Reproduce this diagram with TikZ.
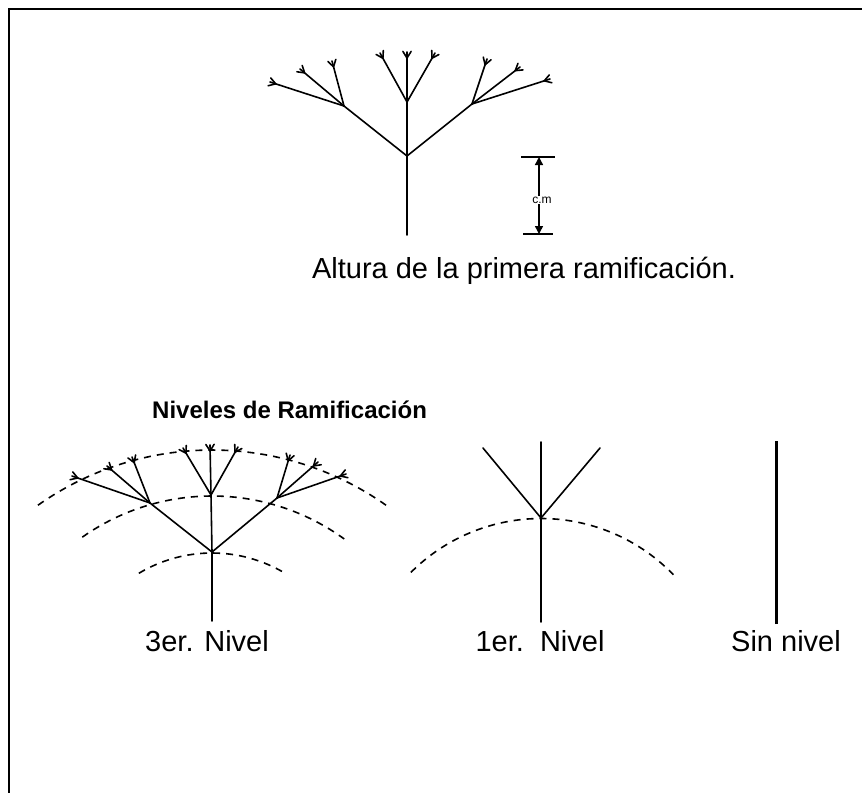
\documentclass[tikz,border=0pt]{standalone}
\usepackage{fontspec}
\setmainfont{Liberation Sans}
\usetikzlibrary{calc,arrows.meta}
\tikzset{
  br/.style={line width=1.6pt, line cap=round},
  arcd/.style={line width=1.6pt, dash pattern=on 7pt off 6pt},
  frame/.style={line width=2.5pt},
  lbl/.style={font=\fontsize{29}{31}\selectfont, inner sep=0pt},
  ttl/.style={font=\bfseries\fontsize{24}{26}\selectfont, inner sep=0pt},
  scl/.style={line width=1.4pt},
  sclarr/.style={line width=1.4pt, -{Triangle[length=8pt,width=8pt]}}
}
\newcommand\twig[2]{%
  \draw[br] (#1) -- (#2);
  \path ($(#2)!6pt!(#1)$) coordinate (fk);
  \draw[br] ($(fk)!1.3!32:(#2)$) -- (fk) -- ($(fk)!1.3!-32:(#2)$);
}
\begin{document}
\begin{tikzpicture}[x=1pt,y=1pt]
\useasboundingbox (0,0) rectangle (862,-793);
% frame
\coordinate (fTL) at (9,-9);
\coordinate (fTR) at (862,-9);
\coordinate (fBL) at (9,-793);
\draw[frame] (fTR) -- (fTL) -- (fBL);

% ---------- top tree ----------
\coordinate (t0) at (407,-235);
\coordinate (tB) at (407,-156);
\coordinate (tC) at (407,-102);
\coordinate (tL) at (344,-106);
\coordinate (tR) at (472,-104);
\draw[br] (t0) -- (tB) -- (tC);
\draw[br] (tB) -- (tL);
\draw[br] (tB) -- (tR);
\coordinate (tc1) at (407,-52);
\coordinate (tc2) at (380,-53);
\coordinate (tc3) at (435,-53);
\coordinate (tl1) at (270,-82);
\coordinate (tl2) at (300,-69);
\coordinate (tl3) at (332,-61);
\coordinate (tr1) at (487,-59);
\coordinate (tr2) at (520,-67);
\coordinate (tr3) at (550,-79);
\twig{tC}{tc1}\twig{tC}{tc2}\twig{tC}{tc3}
\twig{tL}{tl1}\twig{tL}{tl2}\twig{tL}{tl3}
\twig{tR}{tr1}\twig{tR}{tr2}\twig{tR}{tr3}

% scale
\coordinate (sA1) at (521,-157);
\coordinate (sA2) at (555,-157);
\coordinate (sB1) at (523,-234);
\coordinate (sB2) at (553,-234);
\coordinate (sAm) at (539,-157);
\coordinate (sBm) at (539,-234);
\draw[scl] (sA1) -- (sA2);
\draw[scl] (sB1) -- (sB2);
\node[font=\fontsize{12}{13}\selectfont, inner sep=1pt] (cm) at (542,-200) {c.m};
\draw[sclarr] ($(cm.north)+(-3,0)$) -- (sAm);
\draw[sclarr] ($(cm.south)+(-3,0)$) -- (sBm);

\node[lbl] (alt) at (524,-271) {Altura de la primera ramificación.};

% ---------- title ----------
\node[ttl, anchor=west] (tit) at (152,-410) {Niveles de Ramificación};

% ---------- 3er nivel tree ----------
\coordinate (a0) at (212,-621);
\coordinate (aB) at (212,-552);
\coordinate (aC) at (211,-495);
\coordinate (aL) at (150,-503);
\coordinate (aR) at (277,-498);
\draw[arcd] (212,-752) ++(125.2:302) arc[start angle=125.2, end angle=54.8, radius=302];
\draw[arcd] (212,-721) ++(125.2:225) arc[start angle=125.2, end angle=54, radius=225];
\draw[arcd] (212,-695) ++(121:142) arc[start angle=121, end angle=59, radius=142];
\draw[br] (a0) -- (aB) -- (aC);
\draw[br] (aB) -- (aL);
\draw[br] (aB) -- (aR);
\coordinate (ac1) at (210,-445);
\coordinate (ac2) at (183,-448);
\coordinate (ac3) at (238,-447);
\coordinate (al1) at (72,-476);
\coordinate (al2) at (107,-466);
\coordinate (al3) at (132,-457);
\coordinate (ar1) at (290,-455);
\coordinate (ar2) at (318,-462);
\coordinate (ar3) at (346,-474);
\twig{aC}{ac1}\twig{aC}{ac2}\twig{aC}{ac3}
\twig{aL}{al1}\twig{aL}{al2}\twig{aL}{al3}
\twig{aR}{ar1}\twig{aR}{ar2}\twig{aR}{ar3}
\node[lbl] (l3) at (207,-641) {3er. Nivel};

% ---------- 1er nivel tree ----------
\coordinate (b0) at (541,-622);
\coordinate (bB) at (541,-518);
\coordinate (bT) at (541,-442);
\coordinate (bL) at (483,-448);
\coordinate (bR) at (600,-448);
\draw[arcd] (541,-702.5) ++(135:184) arc[start angle=135, end angle=44, radius=184];
\draw[br] (b0) -- (bB) -- (bT);
\draw[br] (bB) -- (bL);
\draw[br] (bB) -- (bR);
\node[lbl] (l1) at (540,-641) {1er.\ \ Nivel};

% ---------- sin nivel ----------
\coordinate (c0) at (776,-624);
\coordinate (cT) at (776,-441);
\draw[line width=3pt] (c0) -- (cT);
\node[lbl] (l0) at (786,-641) {Sin nivel};
\end{tikzpicture}
\end{document}
